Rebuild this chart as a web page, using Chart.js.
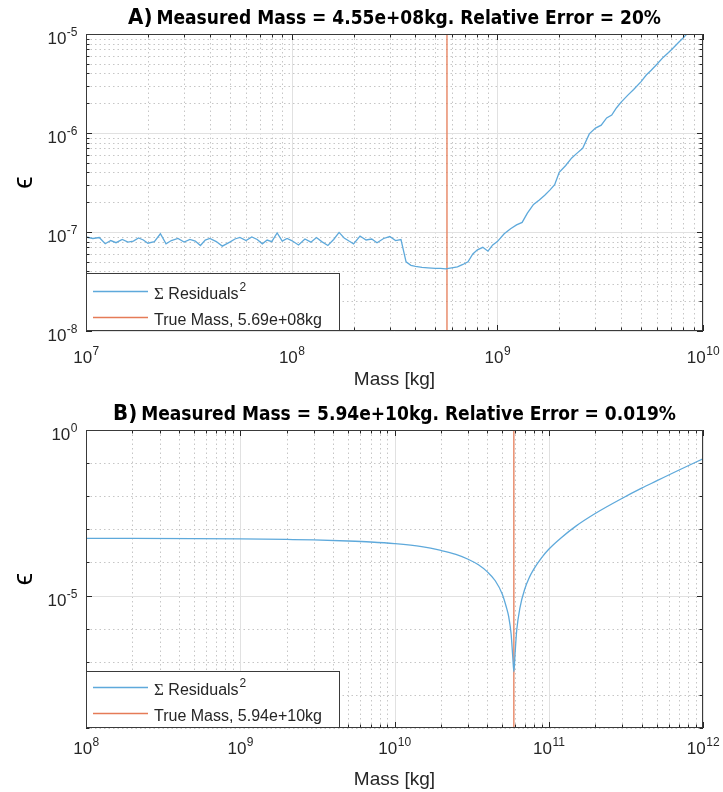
<!DOCTYPE html>
<html>
<head>
<meta charset="utf-8">
<script src="https://cdn.jsdelivr.net/npm/chart.js@4.4.1/dist/chart.umd.min.js"></script>
<style>
  html, body { margin: 0; padding: 0; background: #fff; }
  #wrap { position: relative; width: 723px; height: 792px; }
  #boxA { position: absolute; left: 0; top: 0; }
  #boxB { position: absolute; left: 0; top: 392px; }
</style>
</head>
<body>
<div id="wrap">
  <div id="boxA"><canvas id="chartA" width="723" height="392"></canvas></div>
  <div id="boxB"><canvas id="chartB" width="723" height="400"></canvas></div>
</div>
<script>
// ---- panel A data ----
const massA = [
  1.00e7,1.08e7,1.16e7,1.24e7,1.32e7,1.40e7,1.50e7,1.60e7,1.70e7,1.80e7,1.90e7,2.00e7,2.15e7,2.30e7,2.45e7,2.60e7,2.80e7,3.00e7,3.20e7,3.40e7,3.60e7,3.80e7,4.00e7,4.30e7,4.60e7,5.00e7,5.30e7,5.60e7,6.00e7,6.40e7,6.80e7,7.20e7,7.60e7,8.00e7,8.50e7,9.00e7,9.50e7,
  1.00e8,1.08e8,1.16e8,1.24e8,1.32e8,1.40e8,1.50e8,1.60e8,1.70e8,1.80e8,1.90e8,2.00e8,2.15e8,2.30e8,2.45e8,2.60e8,2.80e8,3.00e8,3.20e8,3.40e8,3.60e8,3.80e8,4.00e8,4.30e8,4.60e8,5.00e8,5.30e8,5.60e8,6.00e8,6.40e8,6.80e8,7.20e8,7.60e8,8.00e8,8.50e8,9.00e8,9.50e8,
  1.00e9,1.08e9,1.16e9,1.24e9,1.32e9,1.40e9,1.50e9,1.60e9,1.70e9,1.80e9,1.90e9,2.00e9,2.15e9,2.30e9,2.45e9,2.60e9,2.80e9,3.00e9,3.20e9,3.40e9,3.60e9,3.80e9,4.00e9,4.30e9,4.60e9,5.00e9,5.30e9,5.60e9,6.00e9,6.40e9,6.80e9,7.20e9,7.60e9,8.00e9,8.50e9,9.00e9,9.50e9,
  1.00e10
];
const residA = [
  8.9e-8,8.6e-8,8.8e-8,7.6e-8,8.2e-8,7.8e-8,8.4e-8,7.9e-8,8.1e-8,8.7e-8,8.3e-8,7.7e-8,8.0e-8,9.6e-8,7.6e-8,8.2e-8,8.6e-8,7.9e-8,8.4e-8,8.1e-8,7.3e-8,8.3e-8,8.6e-8,8.0e-8,7.2e-8,7.9e-8,8.5e-8,8.8e-8,8.2e-8,8.9e-8,8.4e-8,7.6e-8,8.3e-8,8.0e-8,9.8e-8,8.1e-8,8.6e-8,
  8.2e-8,7.4e-8,8.5e-8,7.9e-8,8.8e-8,8.0e-8,7.3e-8,8.4e-8,9.9e-8,8.7e-8,8.1e-8,7.6e-8,9.1e-8,8.3e-8,8.5e-8,7.8e-8,8.6e-8,9.0e-8,8.2e-8,8.4e-8,5.0e-8,4.6e-8,4.5e-8,4.4e-8,4.35e-8,4.3e-8,4.3e-8,4.25e-8,4.35e-8,4.45e-8,4.7e-8,5.0e-8,6.0e-8,6.6e-8,7.0e-8,6.4e-8,7.4e-8,
  8.0e-8,9.6e-8,1.08e-7,1.18e-7,1.25e-7,1.55e-7,1.9e-7,2.1e-7,2.35e-7,2.65e-7,3.0e-7,4.0e-7,4.7e-7,5.6e-7,6.3e-7,7.0e-7,9.8e-7,1.12e-6,1.2e-6,1.42e-6,1.52e-6,1.8e-6,2.05e-6,2.4e-6,2.75e-6,3.3e-6,3.85e-6,4.3e-6,5.0e-6,5.8e-6,6.5e-6,7.3e-6,8.2e-6,9.1e-6,1.04e-5,1.16e-5,1.3e-5,
  1.45e-5
];
const trueMassA = 5.69e8;

// ---- panel B data ----
const massB = [1e8, 2e8, 5e8, 1e9, 2e9, 3e9, 5e9, 7e9, 1e10, 1.5e10, 2e10, 2.5e10, 3e10, 3.5e10, 4e10, 4.5e10, 5e10, 5.3e10, 5.5e10, 5.7e10, 5.85e10, 5.94e10, 6.05e10, 6.2e10, 6.5e10, 7e10, 7.5e10, 8e10, 9e10, 1e11, 1.2e11, 1.5e11, 2e11, 3e11, 4e11, 5e11, 7e11, 1e12];
const residB = [5.3e-4, 5.3e-4, 5.25e-4, 5.15e-4, 4.95e-4, 4.8e-4, 4.45e-4, 4.15e-4, 3.7e-4, 3.0e-4, 2.3e-4, 1.75e-4, 1.25e-4, 8.5e-5, 5.2e-5, 2.8e-5, 1.1e-5, 4.6e-6, 2.3e-6, 7.0e-7, 1.3e-7, 5.0e-8, 1.8e-7, 9.0e-7, 4.2e-6, 1.6e-5, 3.6e-5, 6.3e-5, 1.4e-4, 2.5e-4, 5.5e-4, 1.25e-3, 3.0e-3, 8.7e-3, 1.75e-2, 2.9e-2, 6.2e-2, 0.135];
const trueMassB = 5.94e10;

// ---- text ----
const titleA = ['A)', 'Measured Mass = 4.55e+08kg. Relative Error = 20%'];
const titleB = ['B)', 'Measured Mass = 5.94e+10kg. Relative Error = 0.019%'];
const seriesLabel = ['\u03A3', ' Residuals', '2'];
const trueLabelA = 'True Mass, 5.69e+08kg';
const trueLabelB = 'True Mass, 5.94e+10kg';

const xTicksA = [1e7, 1e8, 1e9, 1e10];
const xLabelsA = ['10^7', '10^8', '10^9', '10^10'];
const yTicksA = [1e-8, 1e-7, 1e-6, 1e-5];
const yLabelsA = ['10^-8', '10^-7', '10^-6', '10^-5'];
const xTicksB = [1e8, 1e9, 1e10, 1e11, 1e12];
const xLabelsB = ['10^8', '10^9', '10^10', '10^11', '10^12'];
const yTicksB = [1e-5, 1e0];
const yLabelsB = ['10^-5', '10^0'];

const FONT = "'Liberation Sans', Arial, Helvetica, 'DejaVu Sans', sans-serif";
const NARROW = "'Liberation Sans Narrow', 'Arial Narrow', 'DejaVu Sans Condensed', 'Liberation Sans', sans-serif";
const BLUE = '#5ea9db';
const RED = '#e57b57';
const INK = '#262626';

// draws "10" with a raised exponent; align = 'center' | 'right'
function powerLabel(ctx, text, x, base, align) {
  const [b, e] = text.split('^');
  ctx.font = '17px ' + FONT;
  const wb = ctx.measureText(b).width;
  ctx.font = '12px ' + FONT;
  const we = ctx.measureText(e).width;
  const x0 = align === 'right' ? x - wb - we : x - (wb + we) / 2;
  ctx.textAlign = 'left';
  ctx.textBaseline = 'alphabetic';
  ctx.font = '17px ' + FONT;
  ctx.fillText(b, x0, base);
  ctx.font = '12px ' + FONT;
  ctx.fillText(e, x0 + wb + 0.5, base - 8);
}

// matlab-ish box: grid, inward ticks, box, tick labels, legend, title
const matlabAxes = {
  id: 'matlabAxes',
  beforeDatasetsDraw(chart, args, o) {
    const { ctx, chartArea: a } = chart;
    ctx.save();
    const marks = collect(chart, o);
    ctx.lineWidth = 1;
    ctx.setLineDash([1.5, 3]);
    ctx.strokeStyle = '#c6c6c6';
    marks.filter(m => !m.major).forEach(m => gridLine(ctx, a, m));
    ctx.setLineDash([]);
    ctx.strokeStyle = '#e1e1e1';
    marks.filter(m => m.major).forEach(m => gridLine(ctx, a, m));
    ctx.restore();
  },
  afterDatasetsDraw(chart, args, o) {
    const { ctx, chartArea: a } = chart;
    ctx.save();
    const marks = collect(chart, o);
    ctx.strokeStyle = INK;
    ctx.lineWidth = 1;
    ctx.beginPath();
    marks.forEach(m => {
      const len = m.major ? 6 : 3.5;
      const p = Math.round(m.px) + 0.5;
      if (m.axis === 'x') {
        ctx.moveTo(p, a.bottom); ctx.lineTo(p, a.bottom - len);
        ctx.moveTo(p, a.top); ctx.lineTo(p, a.top + len);
      } else {
        ctx.moveTo(a.left, p); ctx.lineTo(a.left + len, p);
        ctx.moveTo(a.right, p); ctx.lineTo(a.right - len, p);
      }
    });
    ctx.stroke();
    ctx.strokeStyle = '#3a3a3a';
    ctx.strokeRect(a.left + 0.5, a.top + 0.5, a.right - a.left - 1, a.bottom - a.top - 1);
    ctx.restore();
  },
  afterDraw(chart, args, o) {
    const { ctx, chartArea: a } = chart;
    const xs = chart.scales.x, ys = chart.scales.y;
    ctx.save();
    // tick labels
    ctx.fillStyle = INK;
    o.xTicks.forEach((v, i) => powerLabel(ctx, o.xLabels[i], xs.getPixelForValue(v), a.bottom + o.xBase, 'center'));
    o.yTicks.forEach((v, i) => powerLabel(ctx, o.yLabels[i], a.left - 9, ys.getPixelForValue(v) + 10, 'right'));
    // legend
    const L = a.left, T = a.bottom - o.legendH;
    ctx.fillStyle = '#fff';
    ctx.fillRect(L, T, o.legendW, o.legendH);
    ctx.strokeStyle = '#3a3a3a';
    ctx.lineWidth = 1;
    ctx.strokeRect(L + 0.5, T + 0.5, o.legendW - 1, o.legendH - 1);
    chart.data.datasets.forEach((d, i) => {
      const yy = T + o.legendRows[i];
      ctx.strokeStyle = d.borderColor;
      ctx.lineWidth = 1.5;
      ctx.beginPath();
      ctx.moveTo(L + 7, yy + 0.5); ctx.lineTo(L + 62, yy + 0.5);
      ctx.stroke();
      ctx.fillStyle = INK;
      ctx.textAlign = 'left';
      ctx.textBaseline = 'alphabetic';
      const base = yy + 8;
      if (i === 0) {
        let x = L + 68;
        ctx.font = '17px "Liberation Serif", "DejaVu Serif", serif';
        ctx.fillText(seriesLabel[0], x, base);
        x += ctx.measureText(seriesLabel[0]).width;
        ctx.font = '16px ' + FONT;
        ctx.fillText(seriesLabel[1], x, base);
        x += ctx.measureText(seriesLabel[1]).width + 1;
        ctx.font = '12px ' + FONT;
        ctx.fillText(seriesLabel[2], x, base - 8);
      } else {
        ctx.font = '16px ' + FONT;
        ctx.fillText(d.label, L + 68, base);
      }
    });
    // title
    ctx.fillStyle = '#000';
    ctx.textBaseline = 'alphabetic';
    ctx.font = 'bold ' + o.tagSize + 'px ' + NARROW;
    const w1 = ctx.measureText(o.title[0]).width;
    ctx.font = 'bold ' + o.titleSize + 'px ' + NARROW;
    const w2 = ctx.measureText(o.title[1]).width;
    const x = (a.left + a.right) / 2 - (w1 + 4 + w2) / 2;
    ctx.font = 'bold ' + o.tagSize + 'px ' + NARROW;
    ctx.fillText(o.title[0], x, o.titleBase);
    ctx.font = 'bold ' + o.titleSize + 'px ' + NARROW;
    ctx.fillText(o.title[1], x + w1 + 4, o.titleBase);
    ctx.restore();
  }
};

function collect(chart, o) {
  const out = [];
  const add = (axis, scale, majors, subs) => {
    const lo = Math.floor(Math.log10(scale.min));
    const hi = Math.ceil(Math.log10(scale.max));
    for (let d = lo; d <= hi; d++) {
      [1, ...subs].forEach(m => {
        const v = m * Math.pow(10, d);
        if (v < scale.min * 0.999 || v > scale.max * 1.001) return;
        const major = m === 1 && majors.some(t => Math.abs(Math.log10(t) - Math.log10(v)) < 1e-6);
        out.push({ axis, px: scale.getPixelForValue(v), major });
      });
    }
  };
  add('x', chart.scales.x, o.xTicks, [2, 3, 4, 5, 6, 7, 8, 9]);
  add('y', chart.scales.y, o.yTicks, o.ySubs);
  return out;
}

function gridLine(ctx, a, m) {
  const p = Math.round(m.px) + 0.5;
  ctx.beginPath();
  if (m.axis === 'x') { ctx.moveTo(p, a.top); ctx.lineTo(p, a.bottom); }
  else { ctx.moveTo(a.left, p); ctx.lineTo(a.right, p); }
  ctx.stroke();
}

function makeChart(id, c) {
  return new Chart(document.getElementById(id), {
    type: 'line',
    data: {
      datasets: [{
        label: seriesLabel.join(''),
        data: c.mass.map((m, i) => ({ x: m, y: c.resid[i] })),
        borderColor: BLUE,
        borderWidth: 1.3,
        pointRadius: 0,
        cubicInterpolationMode: c.smooth ? 'monotone' : 'default',
        tension: 0
      }, {
        label: c.trueLabel,
        data: [{ x: c.trueMass, y: c.yMin }, { x: c.trueMass, y: c.yMax }],
        borderColor: RED,
        borderWidth: 1.3,
        pointRadius: 0
      }]
    },
    options: {
      responsive: false,
      animation: false,
      layout: { padding: { top: c.top, right: 20, left: 0, bottom: 0 } },
      scales: {
        x: {
          type: 'logarithmic',
          min: c.xMin, max: c.xMax,
          afterBuildTicks: s => { s.ticks = c.xTicks.map(v => ({ value: v })); },
          afterFit: s => { s.height = c.xHeight; },
          grid: { display: false, drawTicks: false },
          border: { display: false },
          ticks: { display: false },
          title: { display: true, text: 'Mass [kg]', color: INK, font: { family: FONT, size: 19 }, padding: { top: 0, bottom: 1 } }
        },
        y: {
          type: 'logarithmic',
          min: c.yMin, max: c.yMax,
          afterBuildTicks: s => { s.ticks = c.yTicks.map(v => ({ value: v })); },
          afterFit: s => { s.width = 86; },
          grid: { display: false, drawTicks: false },
          border: { display: false },
          ticks: { display: false },
          title: { display: true, text: '\u03F5', color: '#000', font: { family: FONT, size: 28 }, padding: { top: 7, bottom: 0 } }
        }
      },
      plugins: {
        legend: { display: false },
        tooltip: { enabled: false },
        matlabAxes: {
          xTicks: c.xTicks, xLabels: c.xLabels, yTicks: c.yTicks, yLabels: c.yLabels,
          ySubs: c.ySubs, xBase: c.xBase,
          legendW: 254, legendH: c.legendH, legendRows: c.legendRows,
          title: c.title, tagSize: 22, titleSize: 19, titleBase: c.titleBase
        }
      }
    },
    plugins: [matlabAxes]
  });
}

makeChart('chartA', {
  mass: massA, resid: residA, trueMass: trueMassA, trueLabel: trueLabelA, smooth: false,
  xMin: 1e7, xMax: 1e10, yMin: 1e-8, yMax: 1e-5,
  xTicks: xTicksA, xLabels: xLabelsA, yTicks: yTicksA, yLabels: yLabelsA,
  ySubs: [2, 3, 4, 5, 6, 7, 8, 9],
  top: 34, xHeight: 61, xBase: 32,
  legendH: 58, legendRows: [18, 44],
  title: titleA, titleBase: 24
});

makeChart('chartB', {
  mass: massB, resid: residB, trueMass: trueMassB, trueLabel: trueLabelB, smooth: true,
  xMin: 1e8, xMax: 1e12, yMin: 1e-9, yMax: 1e0,
  xTicks: xTicksB, xLabels: xLabelsB, yTicks: yTicksB, yLabels: yLabelsB,
  ySubs: [],
  top: 38, xHeight: 64, xBase: 26,
  legendH: 57, legendRows: [16, 42],
  title: titleB, titleBase: 28
});
</script>
</body>
</html>
